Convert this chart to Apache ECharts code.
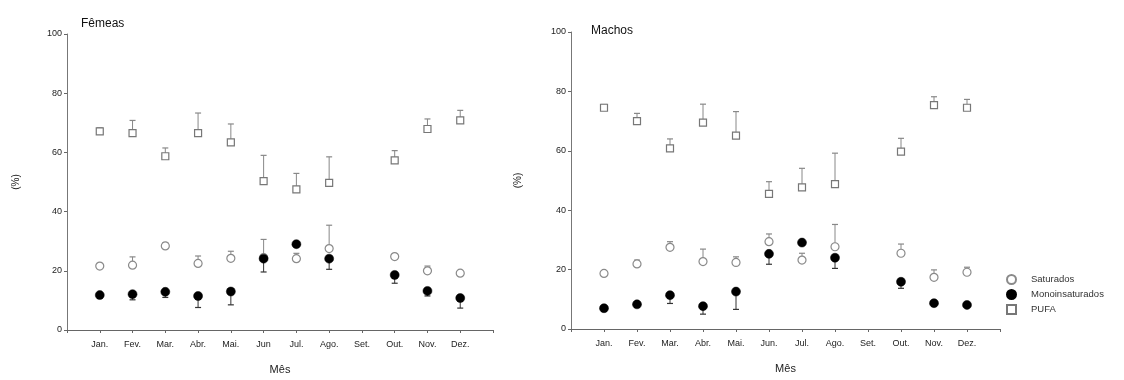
<!DOCTYPE html>
<html>
<head>
<meta charset="utf-8">
<script src="https://cdn.jsdelivr.net/npm/echarts@6/dist/echarts.min.js"></script>
<style>
html,body{margin:0;padding:0;background:#fff;}
#c{width:1124px;height:380px;}
</style>
</head>
<body>
<div id="c"></div>
<script>
// ---- data ----
const months = ['Jan.', 'Fev.', 'Mar.', 'Abr.', 'Mai.', 'Jun', 'Jul.', 'Ago.', 'Set.', 'Out.', 'Nov.', 'Dez.'];
const monthsM = ['Jan.', 'Fev.', 'Mar.', 'Abr.', 'Mai.', 'Jun.', 'Jul.', 'Ago.', 'Set.', 'Out.', 'Nov.', 'Dez.'];
const yTicks = [0, 20, 40, 60, 80, 100];

// Fêmeas (females)
const femSat    = [21.6, 21.9, 28.4, 22.5, 24.2, 24.5, 24.1, 27.5, null, 24.8, 20.0, 19.2];
const femSatErr = [0.3, 2.8, 1.1, 2.5, 2.4, 6.1, 1.8, 7.9, null, 0, 1.6, 0];
const femMono    = [11.8, 12.1, 12.9, 11.5, 13.0, 24.1, 29.0, 24.1, null, 18.6, 13.2, 10.8];
const femMonoErr = [0.3, 1.9, 1.9, 3.9, 4.5, 4.5, 0, 3.6, null, 2.8, 1.7, 3.4];
const femPufa    = [67.1, 66.5, 58.7, 66.5, 63.4, 50.3, 47.5, 49.7, null, 57.3, 67.9, 70.8];
const femPufaErr = [1.2, 4.3, 2.8, 6.8, 6.2, 8.7, 5.4, 8.8, null, 3.3, 3.4, 3.4];

// Machos (males)
const malSat    = [18.7, 21.9, 27.5, 22.7, 22.4, 29.4, 23.2, 27.7, null, 25.5, 17.4, 19.1];
const malSatErr = [0, 1.3, 1.9, 4.2, 1.9, 2.6, 2.3, 7.5, null, 3.1, 2.5, 1.7];
const malMono    = [7.0, 8.3, 11.4, 7.7, 12.6, 25.3, 29.1, 24.0, null, 15.9, 8.7, 8.1];
const malMonoErr = [0.3, 0.6, 2.8, 2.7, 6.0, 3.5, 0, 3.6, null, 2.2, 0.5, 0.5];
const malPufa    = [74.5, 70.0, 60.8, 69.5, 65.1, 45.5, 47.7, 48.8, null, 59.7, 75.4, 74.5];
const malPufaErr = [1.1, 2.6, 3.2, 6.2, 8.1, 4.1, 6.4, 10.4, null, 4.5, 2.8, 2.8];

// ---- helpers ----
function pts(vals) {
  const out = [];
  vals.forEach((v, i) => { if (v != null) out.push([i + 1, v]); });
  return out;
}
function errPts(vals, errs, dir) {
  const out = [];
  vals.forEach((v, i) => { if (v != null && errs[i] > 0) out.push([i + 1, v, v + dir * errs[i]]); });
  return out;
}
function errSeries(vals, errs, dir, idx, color) {
  return {
    type: 'custom', xAxisIndex: idx, yAxisIndex: idx, z: 1, silent: true,
    data: errPts(vals, errs, dir),
    renderItem: function (params, api) {
      const x = api.value(0);
      const p0 = api.coord([x, api.value(1)]);
      const p1 = api.coord([x, api.value(2)]);
      const w = 3;
      return {
        type: 'group',
        children: [
          { type: 'line', shape: { x1: p0[0], y1: p0[1], x2: p1[0], y2: p1[1] }, style: { stroke: color, lineWidth: 1 } },
          { type: 'line', shape: { x1: p1[0] - w, y1: p1[1], x2: p1[0] + w, y2: p1[1] }, style: { stroke: color, lineWidth: 1.2 } }
        ]
      };
    }
  };
}
const satStyle = { color: '#fff', borderColor: '#8a8a8a', borderWidth: 1.2, opacity: 1 };
const monoStyle = { color: '#000', borderColor: '#000', borderWidth: 0.5, opacity: 1 };
const pufaStyle = { color: '#fff', borderColor: '#777', borderWidth: 1.2, opacity: 1 };

function scatter(name, vals, idx, symbol, size, style, z) {
  return { name: name, type: 'scatter', xAxisIndex: idx, yAxisIndex: idx, data: pts(vals),
           symbol: symbol, symbolSize: size, itemStyle: style, z: z, emphasis: { disabled: true } };
}

function xAxisCfg(idx, labels) {
  return {
    type: 'value', gridIndex: idx, min: 0, max: 13, interval: 1,
    name: 'Mês', nameLocation: 'middle', nameGap: 34,
    nameTextStyle: { fontFamily: 'Liberation Sans', fontSize: 11, color: '#222' },
    axisLine: { lineStyle: { color: '#666', width: 1 } },
    axisTick: { show: true, length: 3, lineStyle: { color: '#666' } },
    splitLine: { show: false },
    axisLabel: { margin: 10, fontFamily: 'Liberation Sans', fontSize: 9, color: '#222',
      formatter: v => (v >= 1 && v <= 12) ? labels[v - 1] : '' }
  };
}
function yAxisCfg(idx, gap) {
  return {
    type: 'value', gridIndex: idx, min: yTicks[0], max: yTicks[yTicks.length - 1], interval: 20,
    name: '(%)', nameLocation: 'middle', nameGap: gap, nameRotate: 90,
    nameTextStyle: { fontFamily: 'Liberation Sans', fontSize: 10, color: '#222' },
    axisLine: { show: true, lineStyle: { color: '#777', width: 1 } },
    axisTick: { show: true, length: 3, lineStyle: { color: '#666' } },
    splitLine: { show: false },
    axisLabel: { margin: 5, fontFamily: 'Liberation Sans', fontSize: 9, color: '#222' }
  };
}

const chart = echarts.init(document.getElementById('c'), null, { renderer: 'canvas' });
chart.setOption({
  animation: false,
  backgroundColor: '#fff',
  title: [
    { text: 'Fêmeas', left: 76, top: 13, textStyle: { fontFamily: 'Liberation Sans', fontSize: 12, fontWeight: 'normal', color: '#111' } },
    { text: 'Machos', left: 586, top: 20, textStyle: { fontFamily: 'Liberation Sans', fontSize: 12, fontWeight: 'normal', color: '#111' } }
  ],
  legend: {
    orient: 'vertical', left: 1001, top: 269, itemGap: 4, itemWidth: 9, itemHeight: 9,
    data: ['Saturados', 'Monoinsaturados', 'PUFA'],
    textStyle: { fontFamily: 'Liberation Sans', fontSize: 9.5, color: '#333', padding: [0, 0, 0, 10] },
    selectedMode: false
  },
  grid: [
    { left: 67, right: 631, top: 34, bottom: 49 },
    { left: 571, right: 124, top: 32, bottom: 51 }
  ],
  xAxis: [xAxisCfg(0, months), xAxisCfg(1, monthsM)],
  yAxis: [yAxisCfg(0, 46), yAxisCfg(1, 48)],
  series: [
    errSeries(femPufa, femPufaErr, 1, 0, '#888'),
    errSeries(femSat, femSatErr, 1, 0, '#888'),
    errSeries(femMono, femMonoErr, -1, 0, '#333'),
    errSeries(malPufa, malPufaErr, 1, 1, '#888'),
    errSeries(malSat, malSatErr, 1, 1, '#888'),
    errSeries(malMono, malMonoErr, -1, 1, '#333'),
    scatter('PUFA', femPufa, 0, 'rect', 7, pufaStyle, 2),
    scatter('Saturados', femSat, 0, 'circle', 8, satStyle, 3),
    scatter('Monoinsaturados', femMono, 0, 'circle', 9, monoStyle, 4),
    scatter('PUFA', malPufa, 1, 'rect', 7, pufaStyle, 2),
    scatter('Saturados', malSat, 1, 'circle', 8, satStyle, 3),
    scatter('Monoinsaturados', malMono, 1, 'circle', 9, monoStyle, 4)
  ]
});
</script>
</body>
</html>
